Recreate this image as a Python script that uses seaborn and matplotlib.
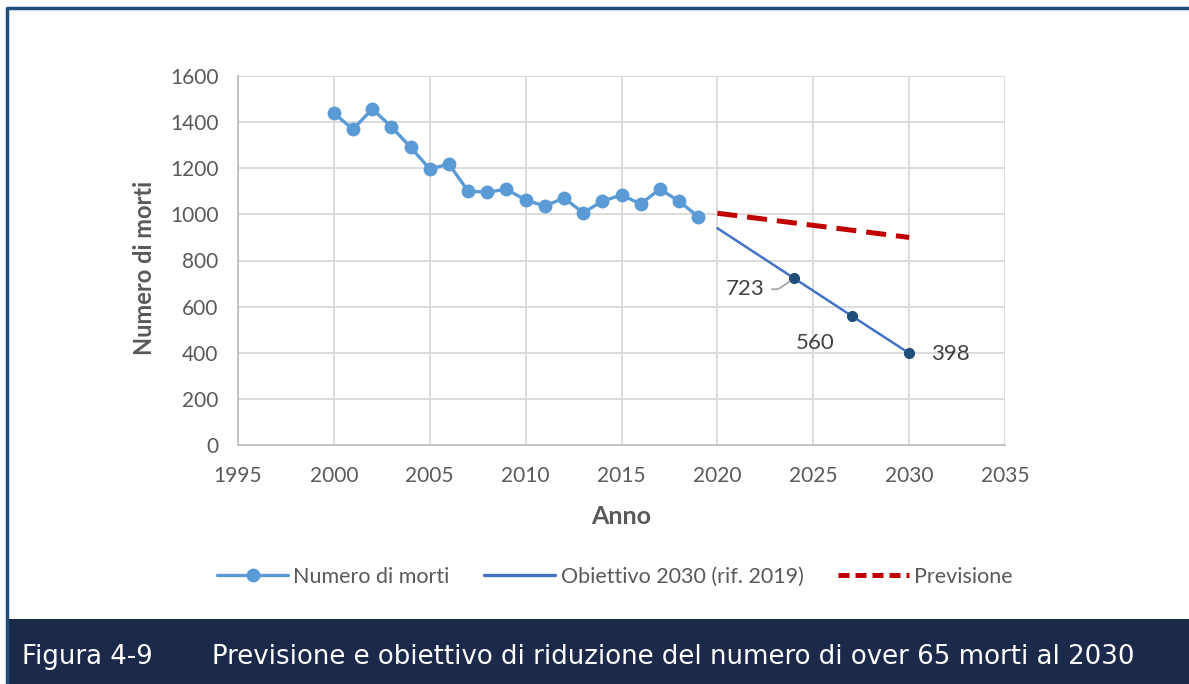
"""
Previsione e obiettivo di riduzione del numero di over 65 morti al 2030.
"""

import numpy as np
import pandas as pd
import matplotlib.pyplot as plt
from matplotlib.patches import Rectangle
from matplotlib.lines import Line2D
import seaborn as sns

# Serie storica
ANNI = list(range(2000, 2020))
MORTI = [1438, 1369, 1457, 1380, 1291, 1197, 1218, 1101, 1096, 1109,
         1062, 1036, 1071, 1007, 1057, 1084, 1045, 1110, 1057, 990]

# Obiettivo 2030 (rif. 2019)
ANNI_OBIETTIVO = [2020, 2024, 2027, 2030]
OBIETTIVO = [940, 723, 560, 398]
ANNI_ETICHETTE = [2024, 2027, 2030]
ETICHETTE = [723, 560, 398]

# Previsione
ANNI_PREVISIONE = [2020, 2030]
PREVISIONE = [1005, 900]

X_TICKS = list(range(1995, 2040, 5))
Y_TICKS = list(range(0, 1800, 200))

GRIGIO = '#595959'
C_MORTI = '#5b9bd5'
C_OBIETTIVO = '#4472c4'
C_PUNTI = '#1f4e79'
C_PREVISIONE = '#c00000'

sns.set_style('white')
plt.rcParams['font.family'] = ['Lato', 'DejaVu Sans']

W, H = 1189, 684
fig = plt.figure(figsize=(W / 100, H / 100), dpi=100)
ax = fig.add_axes([238 / W, 1 - 445 / H, (1005 - 238) / W, (445 - 76) / H])

df = pd.DataFrame({'anno': ANNI, 'morti': MORTI})
sns.lineplot(data=df, x='anno', y='morti', ax=ax, color=C_MORTI, lw=2.4,
             marker='o', markersize=10, markeredgewidth=0, zorder=4)

df_obj = pd.DataFrame({'anno': ANNI_OBIETTIVO, 'valore': OBIETTIVO})
sns.lineplot(data=df_obj, x='anno', y='valore', ax=ax, color=C_OBIETTIVO,
             lw=1.8, zorder=3)
punti = df_obj[df_obj['anno'].isin(ANNI_ETICHETTE)]
ax.plot(punti['anno'], punti['valore'], 'o', color=C_PUNTI, markersize=7,
        zorder=5)

df_prev = pd.DataFrame({'anno': ANNI_PREVISIONE, 'valore': PREVISIONE})
sns.lineplot(data=df_prev, x='anno', y='valore', ax=ax, color=C_PREVISIONE,
             lw=3.6, zorder=3)
ax.lines[-1].set_dashes([4.0, 2.0])

# Etichette dati
offsets = {723: (-49, -11), 560: (-36, -27), 398: (41, -1)}
for anno, val in zip(ANNI_ETICHETTE, ETICHETTE):
    dx, dy = offsets[val]
    kw = {}
    if val == 723:
        kw['arrowprops'] = dict(arrowstyle='-', color='#a6a6a6', lw=1.3,
                                shrinkA=3, shrinkB=4,
                                connectionstyle='angle,angleA=0,angleB=35,rad=3')
    ax.annotate(str(val), (anno, val), xytext=(dx, dy),
                textcoords='offset pixels', ha='center', va='center',
                fontsize=16, color='#404040', **kw)

ax.set_xlim(1995, 2035)
ax.set_ylim(0, 1600)
ax.set_xticks(X_TICKS)
ax.set_yticks(Y_TICKS)
ax.grid(True, color='#d9d9d9', lw=1.3)
ax.set_axisbelow(True)
for s in ['top', 'right']:
    ax.spines[s].set_visible(False)
for s in ['left', 'bottom']:
    ax.spines[s].set_color('#bfbfbf')
    ax.spines[s].set_linewidth(1.3)
ax.tick_params(colors=GRIGIO, labelsize=15, length=0)
ax.tick_params(axis='x', pad=15)
ax.tick_params(axis='y', pad=14)
ax.set_xlabel('Anno', fontsize=18, fontweight='bold', color=GRIGIO, labelpad=14)
ax.set_ylabel('Numero di morti', fontsize=17, fontweight='bold', color=GRIGIO)
ax.yaxis.set_label_coords(-0.107, 0.48)

# Legenda
handles = [
    Line2D([], [], color=C_MORTI, lw=2.4, marker='o', markersize=10,
           markeredgewidth=0),
    Line2D([], [], color=C_OBIETTIVO, lw=2.4),
    Line2D([], [], color=C_PREVISIONE, lw=3.6, dashes=[2.2, 1.2]),
]
fig.legend(handles, ['Numero di morti', 'Obiettivo 2030 (rif. 2019)', 'Previsione'],
           loc='center', bbox_to_anchor=(615 / W, 1 - 577 / H), ncol=3,
           frameon=False, fontsize=15.5, handlelength=3.3, columnspacing=1.6,
           handletextpad=0.25, labelcolor=GRIGIO)

# Cornice e didascalia
fig.add_artist(Line2D([7 / W, 7 / W, 1], [0, 1 - 8 / H, 1 - 8 / H],
                      transform=fig.transFigure, color='#1f4e79', lw=2.5))
fig.patches.append(Rectangle((6 / W, 0), 1 - 6 / W, (H - 619) / H,
                             transform=fig.transFigure, facecolor='#1b2a4a',
                             edgecolor='none', zorder=1))
fig.text(22 / W, 1 - 657 / H, 'Figura 4-9', color='white', fontsize=18.7,
         family=['DejaVu Sans'], va='center')
fig.text(212 / W, 1 - 657 / H,
         'Previsione e obiettivo di riduzione del numero di over 65 morti al 2030',
         color='white', fontsize=18.7, family=['DejaVu Sans'], va='center')

fig.savefig('out.png', dpi=100)
